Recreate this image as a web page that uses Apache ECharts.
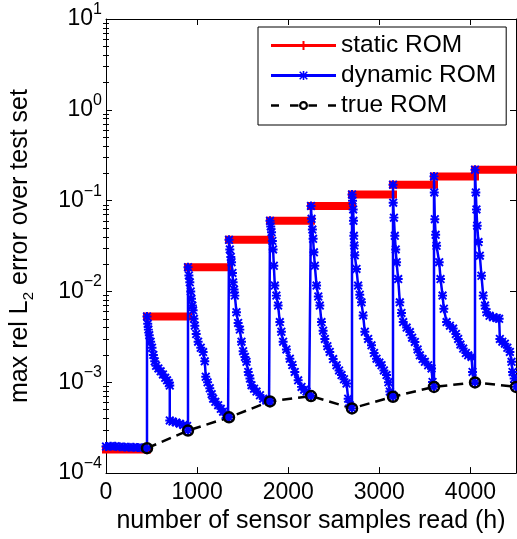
<!DOCTYPE html>
<html>
<head>
<meta charset="utf-8">
<script src="https://cdn.jsdelivr.net/npm/echarts@6/dist/echarts.min.js"></script>
<style>
  html, body { margin: 0; padding: 0; background: #fff; }
  #chart { width: 517px; height: 539px; }
</style>
</head>
<body>
<div id="chart"></div>
<script>
// Samples read at which the true ROM is evaluated, and its max error
const trueSamples = [450, 900, 1350, 1800, 2250, 2700, 3150, 3600, 4050, 4500];
const trueError   = [1.88e-4, 2.94e-4, 4.11e-4, 6.15e-4, 7.05e-4, 5.16e-4, 6.93e-4, 8.9e-4, 9.96e-4, 8.9e-4];

// Static ROM: error held constant over each block [blockEdges[i], blockEdges[i+1]]
const blockEdges  = [0, 450, 900, 1350, 1800, 2250, 2700, 3150, 3600, 4050, 4500];
const staticError = [1.82e-4, 5.3e-3, 1.85e-2, 3.7e-2, 6.0e-2, 8.75e-2, 0.117, 0.15, 0.185, 0.219];

// Dynamic ROM: error after each update (one line per block)
const dynamicSamples = [
  0, 50, 100, 150, 200, 250, 300, 350, 400, 450,
  450, 458, 465, 475, 490, 505, 520, 535, 550, 575, 600, 625, 650, 670, 690, 700, 700, 730, 770, 810, 850, 890, 900,
  900, 910, 920, 930, 938, 948, 956, 965, 975, 990, 1011, 1040, 1066, 1084, 1095, 1115, 1139, 1160, 1176, 1200, 1231, 1260, 1285, 1315, 1340, 1350,
  1350, 1359, 1370, 1378, 1388, 1395, 1405, 1414, 1432, 1450, 1469, 1487, 1505, 1525, 1542, 1561, 1580, 1597, 1625, 1652, 1690, 1725, 1760, 1790, 1800,
  1800, 1808, 1817, 1826, 1834, 1842, 1853, 1870, 1889, 1908, 1925, 1944, 1980, 2018, 2045, 2072, 2109, 2146, 2175, 2201, 2230, 2250,
  2250, 2256, 2265, 2273, 2282, 2292, 2311, 2330, 2347, 2365, 2383, 2402, 2430, 2456, 2493, 2530, 2558, 2585, 2612, 2640, 2658, 2676, 2700,
  2700, 2706, 2713, 2716, 2720, 2725, 2731, 2749, 2767, 2785, 2804, 2822, 2841, 2877, 2914, 2942, 2969, 3000, 3024, 3050, 3079, 3100, 3115, 3140, 3150,
  3150, 3152, 3160, 3170, 3180, 3189, 3207, 3225, 3243, 3262, 3300, 3335, 3360, 3390, 3420, 3445, 3475, 3500, 3536, 3573, 3584, 3600,
  3600, 3603, 3609, 3618, 3628, 3657, 3672, 3694, 3708, 3738, 3775, 3810, 3840, 3865, 3890, 3920, 3950, 3975, 4012, 4023, 4050,
  4050, 4059, 4066, 4074, 4088, 4103, 4121, 4140, 4160, 4177, 4210, 4249, 4290, 4315, 4323, 4350, 4378, 4405, 4433, 4451, 4462, 4480, 4500
];
const dynamicError = [
  1.96e-4, 1.98e-4, 1.97e-4, 1.95e-4, 1.94e-4, 1.93e-4, 1.92e-4, 1.91e-4, 1.90e-4, 1.88e-4,
  5.3e-3, 4.4e-3, 3.8e-3, 3.3e-3, 2.8e-3, 2.4e-3, 2.0e-3, 1.7e-3, 1.52e-3, 1.42e-3, 1.32e-3, 1.22e-3, 1.12e-3, 1.05e-3, 9.8e-4, 9.2e-4, 3.8e-4, 3.7e-4, 3.6e-4, 3.5e-4, 3.38e-4, 3.3e-4, 2.94e-4,
  1.85e-2, 1.5e-2, 1.26e-2, 1.0e-2, 8.3e-3, 7.0e-3, 6.2e-3, 5.0e-3, 4.2e-3, 3.4e-3, 2.8e-3, 2.4e-3, 2.15e-3, 1.7e-3, 1.15e-3, 1.0e-3, 8.6e-4, 7.4e-4, 6.6e-4, 6.1e-4, 5.6e-4, 5.1e-4, 4.75e-4, 4.4e-4, 4.2e-4, 4.11e-4,
  3.7e-2, 2.9e-2, 2.4e-2, 2.1e-2, 1.6e-2, 1.26e-2, 1.05e-2, 9.0e-3, 5.9e-3, 4.5e-3, 3.8e-3, 2.8e-3, 2.2e-3, 1.9e-3, 1.68e-3, 1.3e-3, 1.1e-3, 9.3e-4, 8.5e-4, 7.9e-4, 7.2e-4, 6.6e-4, 6.3e-4, 6.2e-4, 6.15e-4,
  6.0e-2, 5.2e-2, 4.5e-2, 3.6e-2, 2.9e-2, 1.92e-2, 1.16e-2, 9.0e-3, 7.0e-3, 4.6e-3, 3.6e-3, 2.8e-3, 2.3e-3, 1.82e-3, 1.55e-3, 1.3e-3, 1.05e-3, 8.9e-4, 8.3e-4, 7.9e-4, 7.4e-4, 7.05e-4,
  8.75e-2, 6.3e-2, 4.8e-2, 3.8e-2, 2.7e-2, 1.92e-2, 1.16e-2, 8.8e-3, 7.0e-3, 4.6e-3, 3.7e-3, 3.0e-3, 2.5e-3, 2.16e-3, 1.8e-3, 1.54e-3, 1.35e-3, 1.2e-3, 1.08e-3, 9.7e-4, 6.6e-4, 5.6e-4, 5.16e-4,
  0.117, 0.1, 8.0e-2, 6.0e-2, 4.1e-2, 3.2e-2, 2.5e-2, 1.77e-2, 1.16e-2, 9.2e-3, 7.6e-3, 5.45e-3, 3.6e-3, 3.0e-3, 2.55e-3, 2.1e-3, 1.82e-3, 1.65e-3, 1.54e-3, 1.35e-3, 1.2e-3, 1.0e-3, 7.9e-4, 7.3e-4, 6.93e-4,
  0.15, 9.5e-2, 6.5e-2, 4.1e-2, 2.9e-2, 2.1e-2, 1.37e-2, 7.6e-3, 5.8e-3, 4.6e-3, 4.0e-3, 3.57e-3, 3.1e-3, 2.78e-3, 2.3e-3, 1.98e-3, 1.8e-3, 1.68e-3, 1.54e-3, 1.42e-3, 1.01e-3, 8.9e-4,
  0.185, 0.123, 6.25e-2, 4.2e-2, 3.18e-2, 2.1e-2, 1.37e-2, 9.0e-3, 6.45e-3, 4.6e-3, 4.2e-3, 3.9e-3, 3.4e-3, 3.0e-3, 2.6e-3, 2.35e-3, 2.1e-3, 1.98e-3, 1.9e-3, 1.3e-3, 9.96e-4,
  0.219, 0.123, 8.0e-2, 5.3e-2, 3.5e-2, 2.48e-2, 1.49e-2, 9.0e-3, 7.0e-3, 5.9e-3, 5.4e-3, 5.2e-3, 5.1e-3, 5.0e-3, 3.0e-3, 2.8e-3, 2.66e-3, 2.4e-3, 2.16e-3, 1.68e-3, 1.3e-3, 1.1e-3, 8.9e-4
];

// Axis ranges and labelled ticks
const xTicks = [0, 1000, 2000, 3000, 4000];
const xRange = [0, 4500];
const yRange = [1e-4, 1e1];

const FONT = 'Liberation Sans, Arial, Helvetica, sans-serif';

// static ROM drawn as separate horizontal pieces, one per block
const staticData = [];
staticError.forEach(function (v, i) {
  staticData.push([blockEdges[i], v], [blockEdges[i + 1], v], [blockEdges[i + 1], null]);
});
const dynamicData = dynamicSamples.map(function (x, i) { return [x, dynamicError[i]]; });
const trueData = trueSamples.map(function (x, i) { return [x, trueError[i]]; });

// minor ticks 2..9 within each decade
const minorTicks = [];
for (let d = -4; d < 1; d++) {
  for (let m = 2; m <= 9; m++) minorTicks.push(+(m * Math.pow(10, d)).toPrecision(3));
}

// bold asterisk marker
const asterisk = 'path://M0,3.9h10v2.2h-10z M3.9,0h2.2v10h-2.2z M1.5,0L10,8.5L8.5,10L0,1.5Z M10,1.5L1.5,10L0,8.5L8.5,0Z';
const iconStatic = 'path://M0,3h65v3h-65z M31.5,0h2v9h-2z';
const iconDynamic = 'path://M0,3h65v3h-65z M31.7,0h1.6v9h-1.6z M29.23,0.17L36.83,7.77L35.77,8.83L28.17,1.23Z M36.83,1.23L29.23,8.83L28.17,7.77L35.77,0.17Z';
const iconTrue = 'path://M0,3.25h8v2.5h-8z M19,3.25h8.5v2.5h-8.5z M37.5,3.25h8.5v2.5h-8.5z M57,3.25h8v2.5h-8z M37,4.5A4.5,4.5 0 1 1 28,4.5A4.5,4.5 0 1 1 37,4.5Z M34.8,4.5A2.3,2.3 0 1 0 30.2,4.5A2.3,2.3 0 1 0 34.8,4.5Z';

const axisLine = { show: true, onZero: false, lineStyle: { color: '#000', width: 1 } };
const majorTick = { show: true, inside: true, length: 6, lineStyle: { color: '#000', width: 1 } };
const minorTick = { show: true, inside: true, length: 3, customValues: minorTicks, lineStyle: { color: '#000', width: 1 } };

const xBase = { type: 'value', min: xRange[0], max: xRange[1], interval: xTicks[1] - xTicks[0], splitLine: { show: false } };
const yBase = { type: 'log', logBase: 10, min: yRange[0], max: yRange[1], splitNumber: 5, splitLine: { show: false } };

const chart = echarts.init(document.getElementById('chart'), null, { renderer: 'canvas' });
chart.setOption({
  animation: false,
  backgroundColor: '#fff',
  grid: { left: 106, right: 1, top: 19, bottom: 64 },
  xAxis: [
    Object.assign({}, xBase, {
      position: 'bottom',
      axisLine: axisLine,
      axisTick: majorTick,
      axisLabel: {
        margin: 8, fontSize: 23, color: '#000', fontFamily: FONT, showMaxLabel: false,
        formatter: function (v) { return String(v); }
      },
      name: 'number of sensor samples read (h)',
      nameLocation: 'middle',
      nameGap: 31,
      nameTextStyle: { fontSize: 25, color: '#000', fontFamily: FONT }
    }),
    Object.assign({}, xBase, {
      position: 'top',
      axisLine: axisLine,
      axisTick: majorTick,
      axisLabel: { show: false }
    })
  ],
  yAxis: [
    Object.assign({}, yBase, {
      position: 'left',
      axisLine: axisLine,
      axisTick: majorTick,
      axisLabel: {
        margin: 4,
        fontFamily: FONT,
        color: '#000',
        formatter: function (v) {
          const e = Math.round(Math.log10(v));
          return '{b|10}{e|' + (e < 0 ? '\u2212' + (-e) : e) + '}';
        },
        rich: {
          b: { fontSize: 23, lineHeight: 35, verticalAlign: 'middle', color: '#000', fontFamily: FONT },
          e: { fontSize: 16, lineHeight: 15, verticalAlign: 'top', color: '#000', fontFamily: FONT }
        }
      },
      name: '{a|max rel L}{s|2}{a| error over test set}',
      nameLocation: 'middle',
      nameGap: 70,
      nameTextStyle: {
        color: '#000',
        fontFamily: FONT,
        rich: {
          a: { fontSize: 25, lineHeight: 28, verticalAlign: 'top', color: '#000', fontFamily: FONT },
          s: { fontSize: 15, lineHeight: 15, verticalAlign: 'bottom', color: '#000', fontFamily: FONT }
        }
      }
    }),
    Object.assign({}, yBase, {
      position: 'left',
      axisLine: { show: false },
      axisTick: minorTick,
      axisLabel: { show: false }
    }),
    Object.assign({}, yBase, {
      position: 'right',
      axisLine: axisLine,
      axisTick: majorTick,
      axisLabel: { show: false }
    }),
    Object.assign({}, yBase, {
      position: 'right',
      axisLine: { show: false },
      axisTick: minorTick,
      axisLabel: { show: false }
    })
  ],
  legend: {
    orient: 'vertical',
    left: 258,
    top: 27,
    padding: [6, 10, 7, 13],
    itemGap: 5,
    itemWidth: 65,
    itemHeight: 9,
    selectedMode: false,
    backgroundColor: '#fff',
    borderColor: '#000',
    borderWidth: 1,
    borderRadius: 0,
    itemStyle: { borderWidth: 0 },
    textStyle: { fontSize: 24.5, lineHeight: 24, color: '#000', fontFamily: FONT },
    data: [
      { name: 'static ROM', icon: iconStatic, itemStyle: { color: '#ff0000' } },
      { name: 'dynamic ROM', icon: iconDynamic, itemStyle: { color: '#0000ff' } },
      { name: 'true ROM', icon: iconTrue, itemStyle: { color: '#000000' } }
    ]
  },
  series: [
    {
      name: 'static ROM',
      type: 'line',
      xAxisIndex: 0, yAxisIndex: 0,
      data: staticData,
      connectNulls: false,
      symbol: 'none',
      color: '#ff0000',
      lineStyle: { color: '#ff0000', width: 8, cap: 'square' }
    },
    {
      name: 'dynamic ROM',
      type: 'line',
      xAxisIndex: 0, yAxisIndex: 0,
      data: dynamicData,
      symbol: asterisk,
      symbolSize: 9,
      color: '#0000ff',
      itemStyle: { color: '#0000ff' },
      lineStyle: { color: '#0000ff', width: 2.5 }
    },
    {
      name: 'true ROM',
      type: 'line',
      xAxisIndex: 0, yAxisIndex: 0,
      data: trueData,
      symbol: 'circle',
      symbolSize: 10,
      color: '#000000',
      itemStyle: { color: 'rgba(0,0,0,0)', borderColor: '#000', borderWidth: 2.5 },
      lineStyle: { color: '#000', width: 2.5, type: [10, 6] }
    }
  ]
});
</script>
</body>
</html>
